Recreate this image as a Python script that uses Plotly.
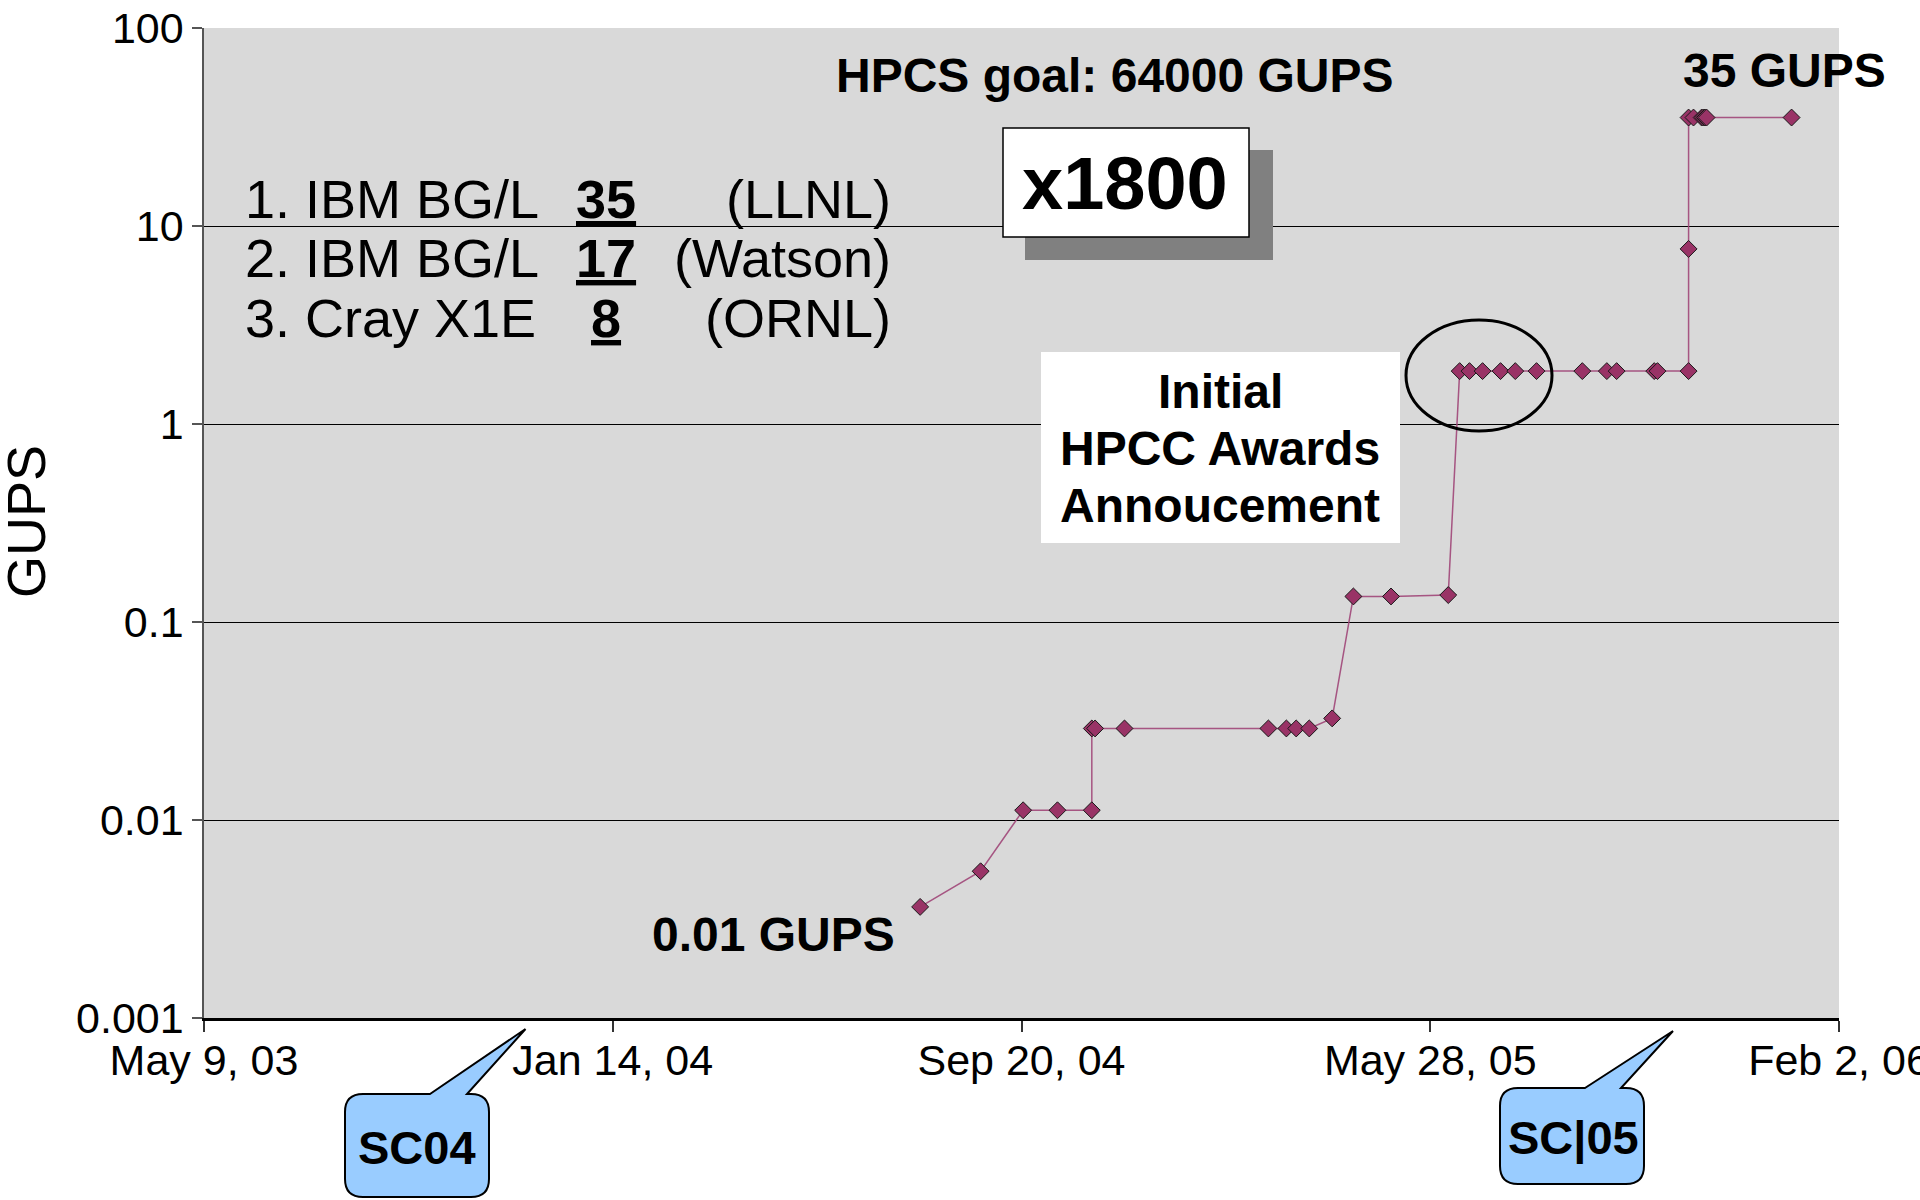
import plotly.graph_objects as go

# ---------------- data ----------------
dates = [
    "2004-07-20", "2004-08-26", "2004-09-21", "2004-10-12", "2004-11-02",
    "2004-11-02", "2004-11-04", "2004-11-22", "2005-02-18", "2005-03-01",
    "2005-03-07", "2005-03-15", "2005-03-29", "2005-04-11", "2005-05-04",
    "2005-06-08", "2005-06-15", "2005-06-21", "2005-06-29", "2005-07-10",
    "2005-07-19", "2005-08-01", "2005-08-29", "2005-09-13", "2005-09-19",
    "2005-10-12", "2005-10-14", "2005-11-02", "2005-11-02", "2005-11-02",
    "2005-11-05", "2005-11-10", "2005-11-11", "2005-11-12", "2005-11-13",
    "2006-01-04",
]
gups = [
    0.00364, 0.00551, 0.0112, 0.0112, 0.0112,
    0.029, 0.029, 0.029, 0.029, 0.029,
    0.029, 0.029, 0.0326, 0.1346, 0.1346,
    0.1368, 1.85, 1.85, 1.85, 1.85,
    1.85, 1.85, 1.85, 1.85, 1.85,
    1.85, 1.85, 1.85, 7.66, 35.3,
    35.3, 35.3, 35.3, 35.3, 35.3,
    35.3,
]

x_range = ["2003-05-09", "2006-02-02"]
x_tick_dates = ["2003-05-09", "2004-01-14", "2004-09-20", "2005-05-28", "2006-02-02"]
x_tick_labels = ["May 9, 03", "Jan 14, 04", "Sep 20, 04", "May 28, 05", "Feb 2, 06"]
y_tick_vals = [0.001, 0.01, 0.1, 1, 10, 100]
y_tick_labels = ["0.001", "0.01", "0.1", "1", "10", "100"]

rank_systems = ["1. IBM BG/L", "2. IBM BG/L", "3. Cray X1E"]
rank_scores = ["35", "17", "8"]
rank_sites = ["(LLNL)", "(Watson)", "(ORNL)"]

award_lines = ["Initial", "HPCC Awards", "Annoucement"]

# ---------------- layout helpers ----------------
W, H = 1920, 1200
L, R, T, B = 204, 81, 28, 182
PW, PH = W - L - R, H - T - B
FONT = "Liberation Sans, Arial, Helvetica, sans-serif"
MARK = "#993366"


def px(x):
    return (x - L) / PW


def py(y):
    return (H - B - y) / PH


def callout_path(x0, x1, y0, y1, r, bl, br, tip):
    def P(x, y):
        return f"{px(x):.5f},{py(y):.5f}"
    s = f"M {P(bl, y0)} L {P(tip[0], tip[1])} L {P(br, y0)} "
    s += f"L {P(x1 - r, y0)} Q {P(x1, y0)} {P(x1, y0 + r)} "
    s += f"L {P(x1, y1 - r)} Q {P(x1, y1)} {P(x1 - r, y1)} "
    s += f"L {P(x0 + r, y1)} Q {P(x0, y1)} {P(x0, y1 - r)} "
    s += f"L {P(x0, y0 + r)} Q {P(x0, y0)} {P(x0 + r, y0)} Z"
    return s


fig = go.Figure()
fig.add_trace(go.Scatter(
    x=dates, y=gups, mode="lines+markers",
    line=dict(color="rgba(160,70,120,0.9)", width=1.5),
    marker=dict(symbol="diamond", size=13, color=MARK,
                line=dict(color="#1a1a1a", width=1)),
    showlegend=False, hoverinfo="x+y",
))

shapes = []
# x1800 shadow + box
shapes.append(dict(type="rect", xref="paper", yref="paper",
                   x0=px(1025), x1=px(1273), y0=py(260), y1=py(150),
                   fillcolor="#808080", line=dict(width=0), layer="above"))
shapes.append(dict(type="rect", xref="paper", yref="paper",
                   x0=px(1003), x1=px(1249), y0=py(237), y1=py(128),
                   fillcolor="white", line=dict(color="black", width=1.5), layer="above"))
# awards white box
shapes.append(dict(type="rect", xref="paper", yref="paper",
                   x0=px(1041), x1=px(1400), y0=py(543), y1=py(352),
                   fillcolor="white", line=dict(width=0), layer="above"))
# ellipse
shapes.append(dict(type="circle", xref="paper", yref="paper",
                   x0=px(1406), x1=px(1552), y0=py(431), y1=py(320),
                   line=dict(color="black", width=3), layer="above"))
# callouts
shapes.append(dict(type="path", xref="paper", yref="paper",
                   path=callout_path(345, 489, 1094, 1197, 18, 430, 467, (525.5, 1029)),
                   fillcolor="#99CCFF", line=dict(color="black", width=2), layer="above"))
shapes.append(dict(type="path", xref="paper", yref="paper",
                   path=callout_path(1500, 1644, 1088, 1184, 18, 1585, 1621, (1673, 1031)),
                   fillcolor="#99CCFF", line=dict(color="black", width=2), layer="above"))

ann = []


def A(text, x, y, size, bold=False, xanchor="center", angle=0):
    ann.append(dict(text=f"<b>{text}</b>" if bold else text,
                    x=px(x), y=py(y), xref="paper", yref="paper",
                    xanchor=xanchor, yanchor="middle", showarrow=False,
                    textangle=angle,
                    font=dict(family=FONT, size=size, color="black")))


A("HPCS goal: 64000 GUPS", 1115, 76, 48, bold=True)
A("x1800", 1125, 183, 74, bold=True)
A("35 GUPS", 1784, 70, 48, bold=True)
A("0.01 GUPS", 773, 934, 48, bold=True)
for i, (s, sc, site) in enumerate(zip(rank_systems, rank_scores, rank_sites)):
    yy = [199.5, 258.4, 317.5][i]
    A(s, 243, yy, 54, xanchor="left")
    A(f"<u>{sc}</u>", 606, yy, 54, bold=True)
    A(site, 893, yy, 54, xanchor="right")
for t, yy in zip(award_lines, [391.5, 448.3, 505]):
    A(t, 1220, yy, 48, bold=True)
A("SC04", 417, 1147, 47, bold=True)
A("SC|05", 1573, 1137, 47, bold=True)
A("GUPS", 26, 522, 54, angle=-90)

fig.update_layout(
    width=W, height=H,
    margin=dict(l=L, r=R, t=T, b=B, autoexpand=False),
    paper_bgcolor="white", plot_bgcolor="#D9D9D9",
    template="none",
    font=dict(family=FONT, size=42, color="black"),
    shapes=shapes, annotations=ann,
    xaxis=dict(type="date", range=x_range, tickvals=x_tick_dates, ticktext=x_tick_labels,
               showgrid=False, zeroline=False, showline=True, linecolor="black", linewidth=2.5,
               ticks="outside", ticklen=11, tickcolor="#333", tickwidth=1.5,
               ticklabeloverflow="allow", ticklabelstandoff=-8,
               tickfont=dict(family=FONT, size=43), automargin=False),
    yaxis=dict(type="log", range=[-3, 2], tickvals=y_tick_vals, ticktext=y_tick_labels,
               showgrid=True, gridcolor="black", gridwidth=1, zeroline=False,
               showline=True, linecolor="#555", linewidth=1.5,
               ticks="outside", ticklen=10, tickcolor="#555", tickwidth=1.5,
               tickfont=dict(family=FONT, size=43), automargin=False),
)

fig.write_html("out.html", config={"displayModeBar": False},
               post_script="document.body.style.margin='0px';")
